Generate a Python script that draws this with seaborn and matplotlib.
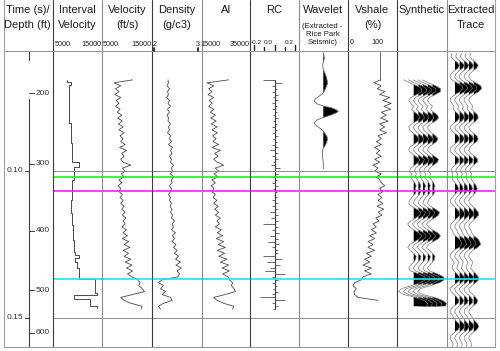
import numpy as np
import pandas as pd
import matplotlib
matplotlib.use("Agg")
import matplotlib.pyplot as plt
from matplotlib.lines import Line2D
import seaborn as sns

# ---------------- data ----------------
LOG_T0 = 0.069      # s, first log sample
DT = 0.001          # s, sample interval

# blocky interval velocity: layer tops (s) and velocities (ft/s)
iv_tops = [0.06905, 0.06956, 0.07075, 0.08367, 0.09048, 0.09694, 0.09864, 0.10306,
           0.10986, 0.11429, 0.11837, 0.12347, 0.12755, 0.12857, 0.12959, 0.13095,
           0.13299, 0.13663, 0.14139, 0.14228, 0.14364, 0.14592, 0.14660]
iv_vals = [7800, 8700, 8350, 8650, 8900, 10300, 9200, 8900, 8700, 8800,
           9000, 9200, 9500, 10300, 9500, 9900, 10300, 13600, 14000, 9200,
           12500, 14000]

velocity = [11120, 7380, 8740, 7720, 8400, 7580, 8740, 7860, 8400, 7720,
            8600, 8060, 8950, 8130, 9080, 8270, 9220, 8400, 9420, 8610,
            9220, 8740, 9630, 8540, 9900, 8950, 9420, 8740, 9220, 10780,
            9080, 9630, 8880, 9420, 8400, 8950, 8270, 8740, 8400, 9080,
            8610, 9220, 8740, 9420, 8950, 9630, 9080, 9760, 9220, 9630,
            8950, 9900, 9220, 10100, 9080, 10310, 9420, 10580, 9220, 10310,
            9420, 10780, 9630, 10990, 9900, 11120, 10100, 10990, 12140, 12620,
            12350, 13030, 13500, 11120, 8740, 9420, 10780, 13030, 12820]

density = [2.32, 2.33, 2.30, 2.35, 2.31, 2.33, 2.29, 2.35, 2.32, 2.37,
           2.31, 2.35, 2.30, 2.33, 2.32, 2.37, 2.33, 2.35, 2.31, 2.37,
           2.35, 2.39, 2.33, 2.41, 2.37, 2.40, 2.35, 2.39, 2.37, 2.43,
           2.39, 2.41, 2.37, 2.43, 2.39, 2.40, 2.35, 2.39, 2.37, 2.33,
           2.37, 2.35, 2.39, 2.36, 2.40, 2.37, 2.41, 2.39, 2.45, 2.40,
           2.43, 2.39, 2.47, 2.41, 2.45, 2.40, 2.48, 2.43, 2.50, 2.45,
           2.53, 2.47, 2.57, 2.48, 2.59, 2.50, 2.55, 2.52, 2.20, 2.13,
           2.23, 2.17, 2.27, 2.20, 2.37, 2.40, 2.23, 2.13, 2.17]

ai = [26110, 17080, 19860, 17780, 19170, 17500, 19860, 18060, 19170, 17780,
      19860, 18470, 20560, 18610, 20830, 18890, 21250, 19170, 21390, 19440,
      20830, 19580, 21940, 19170, 22640, 20280, 21670, 19860, 21250, 24030,
      20560, 21940, 20000, 21670, 19170, 20560, 18890, 20000, 19170, 20560,
      19580, 21250, 19860, 21670, 20280, 21940, 20560, 22640, 21250, 22220,
      20560, 23060, 21390, 23610, 20970, 24030, 21670, 24720, 21390, 24440,
      21940, 25420, 22640, 26110, 23330, 26390, 23610, 25830, 26390, 27780,
      27220, 28330, 28890, 24720, 19860, 21250, 24030, 28190, 27780]

rc = [-0.117, 0.067, -0.027, 0.017, -0.033, 0.027, -0.020, 0.033, -0.027, 0.020,
      -0.033, 0.017, -0.017, 0.027, -0.020, 0.017, -0.027, 0.020, -0.017, 0.027,
      -0.020, 0.020, -0.033, 0.027, -0.050, 0.033, -0.027, 0.033, -0.020, -0.040,
      0.050, -0.027, 0.027, -0.040, 0.020, -0.027, 0.027, -0.020, 0.017, -0.013,
      0.020, -0.033, 0.027, -0.027, 0.033, -0.050, 0.027, -0.040, 0.033, -0.117,
      0.027, -0.033, 0.040, -0.050, 0.033, -0.067, 0.040, -0.033, 0.027, 0.027,
      -0.117, 0.067, -0.083, 0.050, -0.050, -0.100, 0.100, -0.033, 0.033, -0.027,
      0.017, -0.020, 0.027, -0.033, -0.150, 0.100, -0.027, 0.033, -0.017]

vshale = [64.6, 51.2, 66.7, 58.2, 73.8, 63.2, 84.4, 70.2, 87.9, 72.4,
          86.5, 66.7, 77.3, 65.3, 80.9, 63.2, 73.8, 63.2, 77.3, 59.6,
          66.7, 56.1, 66.7, 52.6, 63.2, 56.1, 66.7, 52.6, 63.2, 49.0,
          59.6, 52.6, 66.7, 56.1, 63.2, 66.7, 73.8, 63.2, 70.2, 59.6,
          68.0, 60.0, 70.0, 58.0, 72.0, 60.0, 68.0, 55.0, 62.0, 49.0,
          56.1, 45.5, 56.1, 42.0, 52.6, 38.4, 49.0, 38.4, 52.6, 34.9,
          45.5, 31.3, 42.0, 27.8, 45.5, 31.3, 45.5, 27.8, 24.3, 10.1,
          6.6, 13.7, 8.7, 10.1, 17.2, 59.6]

SYN_T0 = 0.069
synthetic = [-10, -4, 3, 8, 8, 3, -3, -5, -3, 0,
             -2, 1, 5, 6, 3, -2, -5, -4, -1, 3,
             5.5, 4, 0, -4, -5, -2, 2, 6, 5, 1,
             -3, -4, -2, -3, -1, 1, 2.5, 1.5, 2.5, 1,
             -2, -4, -5, -2, 3, 7, 6, 2, -3, -6,
             -4, 0, 5, 8, 6, 1, -4, -6, -3, 0,
             2.5, 2, 0, -3, -5, -3, 5, 11, 12, 7,
             -2, -12, -15, -10, 2, 10, 14, 13]

EXT_T0 = 0.060
extracted = [-3, -4, -2, 2, 4.5, 3, -1, -4, -5, -3,
             2, 7, 8, 5, 0, -4, -5, -3, -1, -2,
             1, 4, 4.5, 2, -2, -5, -4, -1, 3, 4.5,
             3, -1, -4, -5, -3, 1, 4, 3.5, 0, -3,
             -4, -2, -3, -2, 0, 2.5, 3.5, 2.5, 0, -3,
             -5, -4, -1, 2, 4.5, 5, 2, -1, -4, -5,
             -3, -2, 0, 4, 6, 7, 4, -1, -4, -5,
             -3, -1, -2, -3, -1, 2, 4.5, 5, 2, -2,
             -5, -4, -1, 2, 4, 3, -1, -4, -5, -3,
             -1, 1, 4, 5, 3, -1, -4, -5, -3, -2,
             -3]

WAVELET_CENTER = 0.0798
wavelet_lag_ms = [-20, -19.2, -18.2, -17.2, -16.2, -15.2, -14.2, -13.2, -11.8, -10.4,
                  -9.4, -8.4, -7.4, -6.4, -5.3, -4.3, -3.6, -2.6, -1.9, -1.3,
                  -0.6, 0, 0.4, 1.1, 2.0, 2.8, 3.7, 4.5, 5.5, 6.6,
                  7.6, 8.6, 9.6, 10.6, 11.7, 12.3, 13.7, 15.4, 17.1, 19.5]
wavelet_amp = [0, 0.5, 1.0, 0.5, -0.5, -0.5, 0, 1.5, 3, 4,
               4, 3, 1.5, 0, -4, -8, -9, -6, 0, 8,
               13, 15, 13, 8, 0, -6, -9, -8, -4, 0,
               2, 3.8, 4, 3.2, 1.5, 0, -1, -0.8, 0, 0]

horizon_times = [0.1021, 0.1067, 0.1366]
horizon_colors = ["#1ef01e", "#ff1cff", "#12eaff"]
time_ticks = [0.10, 0.15]
time_tick_labels = ["0.10", "0.15"]
depth_tick_labels = ["200", "300", "400", "500", "600"]
depth_tick_times = [0.0735, 0.0976, 0.1204, 0.1405, 0.1551]

# ---------------- layout / style ----------------
sns.set_style("white")
plt.rcParams["font.family"] = ["Liberation Sans", "DejaVu Sans"]

W, H = 500, 351
TOP_Y, BOT_Y = 51, 347
T_TOP = 0.10 - (171 - TOP_Y) / 2940
T_BOT = 0.10 + (BOT_Y - 171) / 2940
CURVE = "#4a4a4a"
DARK = "#3c3c3c"
LIGHT = "#8c8c8c"

fig = plt.figure(figsize=(5, 3.51), dpi=100)


def fx(x):
    return x / W


def fy(y):
    return 1 - y / H


def track(x0, x1, xlim):
    ax = fig.add_axes([fx(x0), fy(BOT_Y), fx(x1 - x0), (BOT_Y - TOP_Y) / H])
    ax.set_xlim(*xlim)
    ax.set_ylim(T_BOT, T_TOP)
    ax.axis("off")
    return ax


def curve(ax, xv, tv, lw=0.6, color=CURVE):
    df = pd.DataFrame({"v": np.asarray(xv, float), "t": np.asarray(tv, float)})
    sns.lineplot(data=df, x="v", y="t", sort=False, estimator=None, orient="y",
                 ax=ax, color=color, lw=lw)


t_log = LOG_T0 + DT * np.arange(len(velocity))

# depth/time track
ax_d = track(4, 53, (4, 53))
ax_d.plot([29, 29], [0.10 - 72 / 2940, T_BOT], color=DARK, lw=0.8)
ax_d.plot([29, 29], [T_TOP, 0.10 - 111 / 2940], color=DARK, lw=0.8)
for t, lab in zip(time_ticks, time_tick_labels):
    ax_d.plot([24.5, 29], [t, t], color=DARK, lw=0.7)
    ax_d.text(23.5, t, lab, ha="right", va="center", fontsize=6, color="#333333")
for t, lab in zip(depth_tick_times, depth_tick_labels):
    ax_d.plot([29, 34], [t, t], color=DARK, lw=0.7)
    ax_d.text(35.5, t, lab, ha="left", va="center", fontsize=6, color="#333333")

# interval velocity (blocky)
ax_iv = track(53, 102, (5000, 15000))
tops = np.asarray(iv_tops)
iv_x = np.repeat(np.asarray(iv_vals, float), 2)
iv_t = np.column_stack([tops[:-1], tops[1:]]).ravel()
curve(ax_iv, iv_x, iv_t, lw=0.7)

# velocity
ax_v = track(102, 152, (5000, 15000))
curve(ax_v, velocity, t_log)

# density
ax_rho = track(152, 202, (2, 3))
curve(ax_rho, density, t_log)

# acoustic impedance
ax_ai = track(202, 250, (15000, 35000))
curve(ax_ai, ai, t_log)

# reflection coefficients
ax_rc = track(250, 299, (-0.25, 0.24))
ax_rc.hlines(t_log, 0, rc, color="#6a6a6a", lw=0.7)
ax_rc.plot([0, 0], [t_log[0], t_log[-1]], color=DARK, lw=0.8)

# wavelet
ax_w = track(299, 348, (0, 49))
WB = 24.3
wt = WAVELET_CENTER + np.asarray(wavelet_lag_ms) / 1000
wa = np.asarray(wavelet_amp, float)
ax_w.fill_betweenx(wt, WB, WB + wa, where=wa > 0, interpolate=True, color="black", lw=0)
curve(ax_w, WB + wa, wt, lw=0.6, color="#666666")

# vshale
ax_sh = track(348, 397, (-4, 100))
t_sh = LOG_T0 + DT * np.arange(len(vshale))
ax_sh.plot([vshale[0], vshale[0]], [T_TOP + 0.0004, t_sh[0]], color=CURVE, lw=0.6)
curve(ax_sh, vshale, t_sh)


def wiggles(ax, amp, t, bases):
    amp = np.asarray(amp, float)
    for b in bases:
        ax.fill_betweenx(t, b, b + amp, where=amp > 0, interpolate=True,
                         color="black", lw=0)
        ax.plot(b + amp, t, color="#7a7a7a", lw=0.5)


ax_syn = track(397, 447, (0, 50))
t_syn = SYN_T0 + DT * np.arange(len(synthetic))
wiggles(ax_syn, synthetic, t_syn, [16.7, 21.4, 26.1, 30.8, 35.5])

ax_ext = track(447, 495, (0, 48))
t_ext = EXT_T0 + DT * np.arange(len(extracted))
wiggles(ax_ext, extracted, t_ext, [8.0, 12.7, 17.3, 22.0, 26.7])

# overlay: time grid lines and horizons
ax_o = track(53, 495, (0, 1))
for t in time_ticks:
    ax_o.plot([0, 1], [t, t], color=LIGHT, lw=0.7)
for t, c in zip(horizon_times, horizon_colors):
    ax_o.plot([0, 1], [t, t], color=c, lw=1.2, solid_capstyle="butt")

# frame / track borders
def vline(x, color, y0=0, y1=BOT_Y, lw=0.8):
    fig.add_artist(Line2D([fx(x), fx(x)], [fy(y0), fy(y1)], transform=fig.transFigure,
                          color=color, lw=lw))


def hline(y, x0, x1, color, lw=0.8):
    fig.add_artist(Line2D([fx(x0), fx(x1)], [fy(y), fy(y)], transform=fig.transFigure,
                          color=color, lw=lw))


vline(4, "#a0a0a0")
for x in [53, 152, 250, 348, 397]:
    vline(x, DARK)
for x in [102, 202, 299, 447]:
    vline(x, LIGHT)
vline(495, "#a0a0a0")
hline(TOP_Y, 4, 495, "#9a9a9a")
hline(BOT_Y, 4, 495, "#9a9a9a")

# header titles
TXT = "#1c1c1c"
headers = [
    (27.5, ["Time (s)/", "Depth (ft)"]),
    (77.5, ["Interval", "Velocity"]),
    (127, ["Velocity", "(ft/s)"]),
    (177, ["Density", "(g/c3)"]),
    (226, ["AI"]),
    (274.5, ["RC"]),
    (323.5, ["Wavelet"]),
    (372.5, ["Vshale", "(%)"]),
    (422, ["Synthetic"]),
    (471, ["Extracted", "Trace"]),
]
for xc, lines in headers:
    for k, s in enumerate(lines):
        fig.text(fx(xc), fy(12.7 + 15.6 * k), s, ha="center", va="baseline",
                 fontsize=8, color=TXT)
for s, yb in [("(Extracted -", 28.5), ("Rice Park", 36.3), ("Seismic)", 43.8)]:
    fig.text(fx(322.5), fy(yb), s, ha="center", va="baseline", fontsize=5.6, color=TXT)

# scale labels
scale_labels = [("5000", 54.5, "left", 45.5, 5.2), ("15000", 101.5, "right", 45.5, 5.2),
                ("5000", 102.5, "left", 45.5, 5.2), ("15000", 151.5, "right", 45.5, 5.2),
                ("2", 152.5, "left", 45.5, 5.2), ("3", 199.8, "right", 45.5, 5.2),
                ("15000", 200.5, "left", 45.5, 5.2), ("35000", 250, "right", 45.5, 5.2),
                ("-0.2", 250.3, "left", 43.5, 4.6), ("0.0", 264.0, "left", 43.5, 4.6),
                ("0.2", 293.5, "right", 43.5, 4.6), ("0", 349.5, "left", 43.5, 5.2),
                ("100", 383.5, "right", 43.5, 5.2)]
for s, x, ha, yb, fs in scale_labels:
    fig.text(fx(x), fy(yb), s, ha=ha, va="baseline", fontsize=fs, color=TXT)

# small scale ticks
for x in [154, 198]:
    fig.add_artist(Line2D([fx(x), fx(x)], [fy(47.5), fy(51)], transform=fig.transFigure,
                          color="#222222", lw=1.3))
for x, y0 in [(254, 44.5), (264, 46.5), (275, 44.5), (285, 46.5), (295, 44.5)]:
    fig.add_artist(Line2D([fx(x), fx(x)], [fy(y0), fy(50)], transform=fig.transFigure,
                          color="#222222", lw=1.0))

fig.savefig("out.png", dpi=100)
